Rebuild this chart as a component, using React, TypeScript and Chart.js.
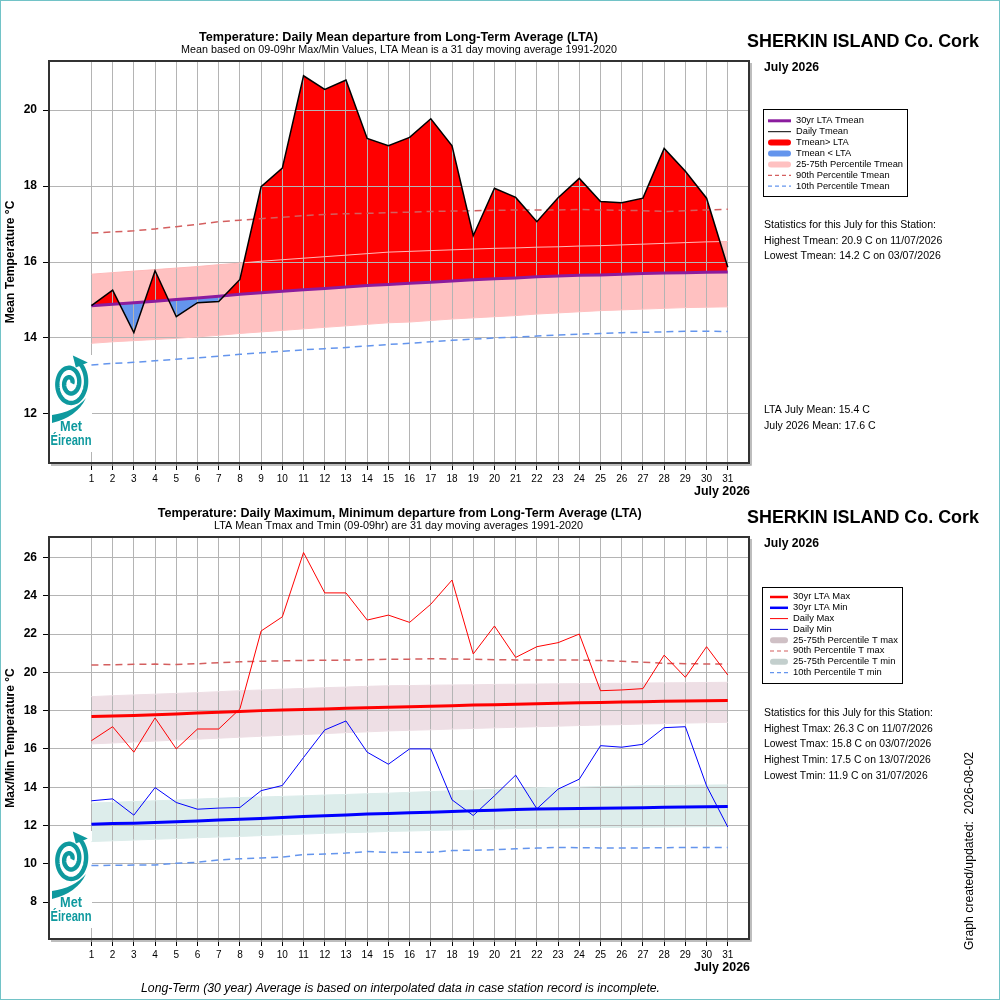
import React, { useEffect, useRef } from 'react';
import { Chart, registerables } from 'chart.js';

Chart.register(...registerables);

const FONT = '"Liberation Sans", Arial, Helvetica, sans-serif';
const TEAL = '#0E999E';

// ---------- data ----------
const days = [1, 2, 3, 4, 5, 6, 7, 8, 9, 10, 11, 12, 13, 14, 15, 16, 17, 18, 19, 20, 21, 22, 23, 24, 25, 26, 27, 28, 29, 30, 31];
const topYTicks = [12, 14, 16, 18, 20];
const bottomYTicks = [8, 10, 12, 14, 16, 18, 20, 22, 24, 26];

const dailyTmean = [14.85, 15.26, 14.14, 15.77, 14.56, 14.93, 14.96, 15.54, 17.98, 18.47, 20.9, 20.54, 20.79, 19.25, 19.06, 19.28, 19.77, 19.06, 16.69, 17.94, 17.7, 17.06, 17.69, 18.2, 17.59, 17.56, 17.68, 18.99, 18.39, 17.68, 15.86];
const ltaTmean = [14.85, 14.89, 14.93, 14.97, 15.01, 15.05, 15.1, 15.15, 15.19, 15.23, 15.27, 15.3, 15.34, 15.38, 15.41, 15.44, 15.47, 15.5, 15.53, 15.56, 15.58, 15.61, 15.63, 15.65, 15.66, 15.68, 15.7, 15.71, 15.72, 15.73, 15.74];
const p75Tmean = [15.68, 15.72, 15.76, 15.8, 15.84, 15.88, 15.93, 15.97, 16.02, 16.06, 16.1, 16.14, 16.18, 16.22, 16.26, 16.28, 16.3, 16.32, 16.34, 16.36, 16.37, 16.39, 16.4, 16.42, 16.43, 16.45, 16.47, 16.49, 16.51, 16.53, 16.54];
const p25Tmean = [13.86, 13.9, 13.93, 13.96, 13.99, 14.03, 14.07, 14.12, 14.16, 14.2, 14.24, 14.28, 14.32, 14.36, 14.4, 14.42, 14.46, 14.5, 14.53, 14.56, 14.59, 14.63, 14.66, 14.69, 14.72, 14.74, 14.76, 14.78, 14.8, 14.81, 14.82];
const p90Tmean = [16.76, 16.79, 16.82, 16.87, 16.93, 16.99, 17.06, 17.1, 17.14, 17.18, 17.22, 17.25, 17.27, 17.28, 17.3, 17.31, 17.33, 17.34, 17.35, 17.36, 17.37, 17.37, 17.37, 17.38, 17.37, 17.36, 17.35, 17.33, 17.35, 17.37, 17.39];
const p10Tmean = [13.29, 13.33, 13.36, 13.4, 13.44, 13.48, 13.52, 13.57, 13.61, 13.65, 13.69, 13.72, 13.75, 13.79, 13.83, 13.86, 13.9, 13.94, 13.97, 14.0, 14.02, 14.05, 14.08, 14.1, 14.12, 14.14, 14.15, 14.16, 14.18, 14.18, 14.17];

const dailyTmax = [16.43, 17.16, 15.83, 17.62, 16.0, 17.04, 17.04, 18.09, 22.16, 22.9, 26.26, 24.15, 24.15, 22.73, 22.99, 22.61, 23.56, 24.82, 20.96, 22.42, 20.78, 21.34, 21.55, 22.0, 19.04, 19.08, 19.15, 20.9, 19.74, 21.34, 19.86];
const dailyTmin = [13.29, 13.39, 12.54, 13.98, 13.2, 12.85, 12.91, 12.94, 13.82, 14.09, 15.55, 16.99, 17.46, 15.83, 15.2, 16.0, 16.0, 13.34, 12.52, 13.55, 14.63, 12.87, 13.9, 14.42, 16.17, 16.09, 16.24, 17.11, 17.16, 14.07, 11.92];
const ltaTmax = [17.69, 17.72, 17.75, 17.79, 17.83, 17.87, 17.91, 17.96, 18.0, 18.03, 18.06, 18.09, 18.12, 18.15, 18.18, 18.2, 18.23, 18.26, 18.29, 18.31, 18.33, 18.36, 18.39, 18.41, 18.43, 18.45, 18.47, 18.49, 18.5, 18.52, 18.53];
const ltaTmin = [12.07, 12.1, 12.12, 12.15, 12.19, 12.23, 12.28, 12.33, 12.37, 12.42, 12.47, 12.51, 12.55, 12.6, 12.63, 12.66, 12.69, 12.73, 12.77, 12.8, 12.83, 12.86, 12.88, 12.89, 12.9, 12.91, 12.93, 12.95, 12.96, 12.98, 12.99];
const p75Tmax = [18.73, 18.78, 18.82, 18.86, 18.9, 18.94, 18.99, 19.04, 19.08, 19.12, 19.16, 19.2, 19.23, 19.27, 19.3, 19.31, 19.33, 19.34, 19.35, 19.37, 19.38, 19.39, 19.4, 19.41, 19.42, 19.43, 19.44, 19.45, 19.46, 19.47, 19.48];
const p25Tmax = [16.26, 16.31, 16.36, 16.41, 16.46, 16.51, 16.56, 16.61, 16.66, 16.71, 16.75, 16.8, 16.85, 16.89, 16.94, 16.97, 17.0, 17.04, 17.07, 17.1, 17.13, 17.16, 17.19, 17.22, 17.25, 17.27, 17.3, 17.32, 17.35, 17.37, 17.39];
const p75Tmin = [13.17, 13.21, 13.25, 13.29, 13.33, 13.38, 13.42, 13.46, 13.49, 13.52, 13.55, 13.59, 13.62, 13.66, 13.69, 13.73, 13.77, 13.81, 13.85, 13.89, 13.93, 13.97, 13.99, 14.01, 14.03, 14.05, 14.07, 14.08, 14.1, 14.11, 14.12];
const p25Tmin = [11.16, 11.2, 11.24, 11.28, 11.32, 11.36, 11.4, 11.43, 11.47, 11.51, 11.55, 11.59, 11.62, 11.65, 11.69, 11.71, 11.74, 11.76, 11.79, 11.81, 11.84, 11.86, 11.87, 11.88, 11.89, 11.9, 11.91, 11.92, 11.93, 11.94, 11.95];
const p90Tmax = [20.38, 20.4, 20.42, 20.43, 20.41, 20.45, 20.5, 20.55, 20.58, 20.6, 20.62, 20.63, 20.64, 20.66, 20.68, 20.69, 20.71, 20.7, 20.68, 20.66, 20.65, 20.64, 20.64, 20.64, 20.62, 20.58, 20.53, 20.47, 20.45, 20.44, 20.43];
const p10Tmin = [9.91, 9.92, 9.93, 9.94, 10.03, 10.08, 10.2, 10.26, 10.3, 10.35, 10.48, 10.51, 10.56, 10.64, 10.59, 10.6, 10.6, 10.69, 10.71, 10.73, 10.78, 10.82, 10.85, 10.84, 10.83, 10.82, 10.83, 10.84, 10.85, 10.85, 10.85];

const topStats = [
  'Statistics for this July for this Station:',
  'Highest Tmean: 20.9 C on 11/07/2026',
  'Lowest Tmean: 14.2 C on 03/07/2026',
];
const topMeans = ['LTA July Mean: 15.4 C', 'July 2026 Mean: 17.6 C'];
const bottomStats = [
  'Statistics for this July for this Station:',
  'Highest Tmax: 26.3 C on 11/07/2026',
  'Lowest Tmax: 15.8 C on 03/07/2026',
  'Highest Tmin: 17.5 C on 13/07/2026',
  'Lowest Tmin: 11.9 C on 31/07/2026',
];

// ---------- helpers ----------
const pts = (vals: number[]) => days.map((d, i) => ({ x: d, y: vals[i] }));

function txt(ctx: CanvasRenderingContext2D, s: string, x: number, y: number, font: string, align: CanvasTextAlign, width?: number, color = '#000', sx?: number) {
  ctx.save();
  ctx.font = font;
  ctx.fillStyle = color;
  ctx.textBaseline = 'middle';
  ctx.textAlign = align;
  let k = sx ?? 1;
  if (width) {
    const w = ctx.measureText(s).width;
    if (w > 0) k = width / w;
  }
  ctx.translate(x, y);
  ctx.scale(k, 1);
  ctx.fillText(s, 0, 0);
  ctx.restore();
}

function kOf(ctx: CanvasRenderingContext2D, font: string, ref: string, width: number) {
  ctx.save();
  ctx.font = font;
  const w = ctx.measureText(ref).width;
  ctx.restore();
  return w > 0 ? width / w : 1;
}

interface LegItem { label: string; color: string; lw: number; dash?: number[]; round?: boolean }

function drawLegend(ctx: CanvasRenderingContext2D, bx: number, by: number, bw: number, bh: number, items: LegItem[], y0: number, dy: number, lx1: number, lx2: number, tx: number, ref: string, refW: number) {
  ctx.save();
  ctx.fillStyle = '#fff';
  ctx.fillRect(bx, by, bw, bh);
  ctx.strokeStyle = '#000';
  ctx.lineWidth = 1;
  ctx.strokeRect(bx + 0.5, by + 0.5, bw, bh);
  const font = `9px ${FONT}`;
  const k = kOf(ctx, font, ref, refW);
  items.forEach((it, i) => {
    const y = y0 + i * dy;
    ctx.save();
    ctx.strokeStyle = it.color;
    ctx.lineWidth = it.lw;
    ctx.lineCap = it.round ? 'round' : 'butt';
    ctx.setLineDash(it.dash || []);
    const o = it.round ? it.lw / 2 : 0;
    ctx.beginPath();
    ctx.moveTo(lx1 + o, y);
    ctx.lineTo(lx2 - o, y);
    ctx.stroke();
    ctx.restore();
    txt(ctx, it.label, tx, y, font, 'left', undefined, '#000', k);
  });
  ctx.restore();
}

function drawLogo(ctx: CanvasRenderingContext2D, bx: number, by: number) {
  ctx.save();
  ctx.fillStyle = '#fff';
  ctx.fillRect(bx, by, 42, 97);
  ctx.strokeStyle = TEAL;
  ctx.fillStyle = TEAL;
  const cx = bx + 20;
  const cy = by + 28;
  ctx.lineWidth = 4.4;
  ctx.beginPath();
  const turns = 2.2;
  const n = 160;
  for (let i = 0; i <= n; i++) {
    const f = i / n;
    const t = f * turns * Math.PI * 2;
    const r = 24 - f * 21;
    const a = -1.1 + t;
    const px = cx + r * Math.cos(a) * 0.72;
    const py = cy + r * Math.sin(a);
    if (i === 0) ctx.moveTo(px, py);
    else ctx.lineTo(px, py);
  }
  ctx.stroke();
  // arrow tip at the outer end
  const a0 = -1.1;
  const tx0 = cx + 24 * Math.cos(a0) * 0.72;
  const ty0 = cy + 24 * Math.sin(a0);
  ctx.beginPath();
  ctx.moveTo(tx0 - 5, ty0 - 6);
  ctx.lineTo(tx0 + 10, ty0 + 1);
  ctx.lineTo(tx0 - 2, ty0 + 6);
  ctx.closePath();
  ctx.fill();
  // swoosh
  ctx.beginPath();
  ctx.moveTo(bx + 2, by + 68);
  ctx.quadraticCurveTo(bx + 27, by + 62, bx + 36, by + 43);
  ctx.quadraticCurveTo(bx + 24, by + 57, bx + 2, by + 60);
  ctx.closePath();
  ctx.fill();
  txt(ctx, 'Met', bx + 21, by + 72, `bold 15px ${FONT}`, 'center', 22, TEAL);
  txt(ctx, 'Éireann', bx + 21, by + 86, `bold 15px ${FONT}`, 'center', 41, TEAL);
  ctx.restore();
}

function drawFrame(chart: any) {
  const ctx: CanvasRenderingContext2D = chart.ctx;
  const { left, top, right, bottom } = chart.chartArea;
  ctx.save();
  ctx.strokeStyle = '#A8A8A8';
  ctx.lineWidth = 1.5;
  ctx.beginPath();
  ctx.moveTo(right + 2, top + 2);
  ctx.lineTo(right + 2, bottom + 2);
  ctx.lineTo(left + 2, bottom + 2);
  ctx.stroke();
  ctx.strokeStyle = '#333';
  ctx.lineWidth = 2;
  ctx.strokeRect(left, top, right - left, bottom - top);
  ctx.restore();
}

const gridPlugin = {
  id: 'gridOverFill',
  beforeDatasetsDraw(chart: any) {
    chart.scales.x.drawGrid(chart.chartArea);
    chart.scales.y.drawGrid(chart.chartArea);
    drawLogo(chart.ctx, chart.chartArea.left + 1, chart.chartArea.top + 294);
  },
};

const topDecor = {
  id: 'topDecor',
  afterDraw(chart: any) {
    const ctx: CanvasRenderingContext2D = chart.ctx;
    drawFrame(chart);
    txt(ctx, 'Temperature: Daily Mean departure from Long-Term Average (LTA)', 398.5, 37.3, `bold 12px ${FONT}`, 'center', 399);
    txt(ctx, 'Mean based on 09-09hr Max/Min Values, LTA Mean is a 31 day moving average 1991-2020', 399, 50, `10px ${FONT}`, 'center', 436);
    txt(ctx, 'SHERKIN ISLAND Co. Cork', 747, 42, `bold 18px ${FONT}`, 'left', 232);
    txt(ctx, 'July 2026', 764, 68, `bold 12px ${FONT}`, 'left', 55);
    txt(ctx, 'July 2026', 750, 492, `bold 12px ${FONT}`, 'right', 56);
    drawLegend(ctx, 763, 109, 144, 87, [
      { label: '30yr LTA Tmean', color: '#8B1C9E', lw: 3 },
      { label: 'Daily Tmean', color: '#000', lw: 1 },
      { label: 'Tmean> LTA', color: '#FF0000', lw: 6, round: true },
      { label: 'Tmean < LTA', color: '#6495ED', lw: 6, round: true },
      { label: '25-75th Percentile Tmean', color: '#FFC1C1', lw: 6, round: true },
      { label: '90th Percentile Tmean', color: '#D45F5F', lw: 1.2, dash: [4, 3] },
      { label: '10th Percentile Tmean', color: '#6495ED', lw: 1.2, dash: [4, 3] },
    ], 120.8, 10.9, 768, 791, 796, '25-75th Percentile Tmean', 107);
    const f = `10px ${FONT}`;
    const k = kOf(ctx, f, topStats[0], 172);
    topStats.forEach((s, i) => txt(ctx, s, 764, 225 + i * 15.8, f, 'left', undefined, '#000', k));
    topMeans.forEach((s, i) => txt(ctx, s, 764, 410 + i * 16, f, 'left', undefined, '#000', k));
  },
};

const bottomDecor = {
  id: 'bottomDecor',
  afterDraw(chart: any) {
    const ctx: CanvasRenderingContext2D = chart.ctx;
    drawFrame(chart);
    txt(ctx, 'Temperature: Daily Maximum, Minimum departure from Long-Term Average (LTA)', 399.7, 37.3, `bold 12px ${FONT}`, 'center', 484);
    txt(ctx, 'LTA Mean Tmax and Tmin (09-09hr) are 31 day moving averages 1991-2020', 398.5, 50, `10px ${FONT}`, 'center', 369);
    txt(ctx, 'SHERKIN ISLAND Co. Cork', 747, 42, `bold 18px ${FONT}`, 'left', 232);
    txt(ctx, 'July 2026', 764, 68, `bold 12px ${FONT}`, 'left', 55);
    txt(ctx, 'July 2026', 750, 492, `bold 12px ${FONT}`, 'right', 56);
    drawLegend(ctx, 762, 111, 140, 96, [
      { label: '30yr LTA Max', color: '#FF0000', lw: 2.5 },
      { label: '30yr LTA Min', color: '#0000FF', lw: 2.5 },
      { label: 'Daily Max', color: '#FF0000', lw: 1 },
      { label: 'Daily Min', color: '#0000DD', lw: 1 },
      { label: '25-75th Percentile T max', color: '#CFC0C5', lw: 6, round: true },
      { label: '90th Percentile T max', color: '#D45F5F', lw: 1.2, dash: [4, 3] },
      { label: '25-75th Percentile T min', color: '#C3CFCD', lw: 6, round: true },
      { label: '10th Percentile T min', color: '#6495ED', lw: 1.2, dash: [4, 3] },
    ], 121, 10.8, 770, 788, 793, '25-75th Percentile T max', 105);
    const f = `10px ${FONT}`;
    const k = kOf(ctx, f, bottomStats[0], 169);
    bottomStats.forEach((s, i) => txt(ctx, s, 764, 237.3 + i * 15.7, f, 'left', undefined, '#000', k));
    ctx.save();
    ctx.translate(970, 375);
    ctx.rotate(-Math.PI / 2);
    txt(ctx, 'Graph created/updated:  2026-08-02', 0, 0, `12px ${FONT}`, 'center', 198);
    ctx.restore();
    txt(ctx, 'Long-Term (30 year) Average is based on interpolated data in case station record is incomplete.', 400.5, 513, `italic 12px ${FONT}`, 'center', 519);
  },
};

function makeOptions(yMin: number, yMax: number, yTicks: number[], yTitle: string, padBottom: number): any {
  return {
    responsive: false,
    animation: false,
    devicePixelRatio: 1,
    layout: { padding: { left: 0, top: 61, right: 251, bottom: padBottom } },
    elements: { point: { radius: 0 }, line: { tension: 0 } },
    plugins: {
      legend: { display: false },
      tooltip: { enabled: false },
      title: { display: false },
      filler: { drawTime: 'beforeDatasetsDraw', propagate: false },
    },
    scales: {
      x: {
        type: 'linear',
        min: -1,
        max: 32,
        afterBuildTicks: (s: any) => { s.ticks = days.map((d) => ({ value: d })); },
        afterFit: (s: any) => { s.height = 20; },
        ticks: { autoSkip: false, maxRotation: 0, minRotation: 0, padding: 3, color: '#000', font: { size: 10, family: FONT }, callback: (v: any) => String(v) },
        grid: { color: '#B4B4B4', lineWidth: 1, tickColor: '#000', tickLength: 7 },
        border: { display: false },
      },
      y: {
        type: 'linear',
        min: yMin,
        max: yMax,
        afterBuildTicks: (s: any) => { s.ticks = yTicks.map((v) => ({ value: v })); },
        afterFit: (s: any) => { s.width = 49; },
        ticks: { padding: 6, color: '#000', font: { size: 12, weight: 'bold', family: FONT }, callback: (v: any) => String(v) },
        grid: { color: '#B4B4B4', lineWidth: 1, tickColor: '#000', tickLength: 6 },
        border: { display: false },
        title: { display: true, text: yTitle, color: '#000', font: { size: 12, weight: 'bold', family: FONT }, padding: { top: 3, bottom: 0 } },
      },
    },
  };
}

export default function App() {
  const topRef = useRef<HTMLCanvasElement>(null);
  const botRef = useRef<HTMLCanvasElement>(null);

  useEffect(() => {
    document.body.style.margin = '0';
    Chart.defaults.font.family = FONT;

    const topChart = new Chart(topRef.current as HTMLCanvasElement, {
      type: 'line',
      data: {
        datasets: [
          { label: 'Daily Tmean', data: pts(dailyTmean), borderColor: '#000', borderWidth: 1.5, fill: { target: 1, above: '#FF0000', below: '#6495ED' } },
          { label: '30yr LTA Tmean', data: pts(ltaTmean), borderColor: '#8B1C9E', borderWidth: 3, fill: false },
          { label: '90th Percentile Tmean', data: pts(p90Tmean), borderColor: '#D45F5F', borderWidth: 1.5, borderDash: [7, 5], fill: false },
          { label: '10th Percentile Tmean', data: pts(p10Tmean), borderColor: '#6495ED', borderWidth: 1.5, borderDash: [7, 5], fill: false },
          { label: '75th Percentile Tmean', data: pts(p75Tmean), borderColor: '#FFB9B9', borderWidth: 1, backgroundColor: '#FFC1C1', fill: { target: 5 } },
          { label: '25th Percentile Tmean', data: pts(p25Tmean), borderColor: '#FFC1C1', borderWidth: 1, fill: false },
        ] as any,
      },
      options: makeOptions(10.71, 21.29, topYTicks, 'Mean Temperature °C', 17),
      plugins: [gridPlugin, topDecor],
    });

    const bottomChart = new Chart(botRef.current as HTMLCanvasElement, {
      type: 'line',
      data: {
        datasets: [
          { label: 'Daily Max', data: pts(dailyTmax), borderColor: '#FF0000', borderWidth: 1, fill: false },
          { label: 'Daily Min', data: pts(dailyTmin), borderColor: '#0000FF', borderWidth: 1, fill: false },
          { label: '30yr LTA Max', data: pts(ltaTmax), borderColor: '#FF0000', borderWidth: 3, fill: false },
          { label: '30yr LTA Min', data: pts(ltaTmin), borderColor: '#0000FF', borderWidth: 3, fill: false },
          { label: '90th Percentile T max', data: pts(p90Tmax), borderColor: '#D45F5F', borderWidth: 1.5, borderDash: [7, 5], fill: false },
          { label: '10th Percentile T min', data: pts(p10Tmin), borderColor: '#6495ED', borderWidth: 1.5, borderDash: [7, 5], fill: false },
          { label: '75th Percentile T max', data: pts(p75Tmax), borderColor: '#EEDFE5', borderWidth: 1, backgroundColor: '#EEDFE5', fill: { target: 7 } },
          { label: '25th Percentile T max', data: pts(p25Tmax), borderColor: '#EEDFE5', borderWidth: 1, fill: false },
          { label: '75th Percentile T min', data: pts(p75Tmin), borderColor: '#DDEDEB', borderWidth: 1, backgroundColor: '#DDEDEB', fill: { target: 9 } },
          { label: '25th Percentile T min', data: pts(p25Tmin), borderColor: '#DDEDEB', borderWidth: 1, fill: false },
        ] as any,
      },
      options: makeOptions(6.07, 27.07, bottomYTicks, 'Max/Min Temperature °C', 41),
      plugins: [gridPlugin, bottomDecor],
    });

    return () => {
      topChart.destroy();
      bottomChart.destroy();
    };
  }, []);

  return (
    <div style={{ position: 'relative', width: 1000, height: 1000, background: '#fff', overflow: 'hidden' }}>
      <canvas ref={topRef} width={1000} height={500} style={{ position: 'absolute', left: 0, top: 0, width: 1000, height: 500 }} />
      <canvas ref={botRef} width={1000} height={524} style={{ position: 'absolute', left: 0, top: 476, width: 1000, height: 524 }} />
      <div style={{ position: 'absolute', left: 0, top: 0, width: 1000, height: 1000, boxSizing: 'border-box', border: '1px solid #72C3C7', pointerEvents: 'none' }} />
    </div>
  );
}
